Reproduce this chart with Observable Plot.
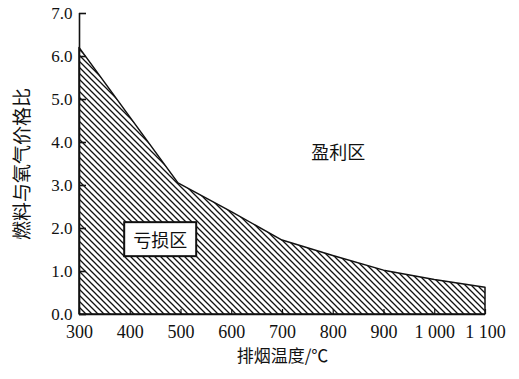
<!DOCTYPE html>
<html>
<head>
<meta charset="utf-8">
<script src="https://cdn.jsdelivr.net/npm/d3@7"></script>
<script src="https://cdn.jsdelivr.net/npm/@observablehq/plot@0.6"></script>
<style>
  html, body { margin: 0; padding: 0; background: #fff; }
</style>
</head>
<body>
<div id="chart"></div>
<script>
// exhaust-gas temperature (°C) and fuel/oxygen price ratio boundary
const temps  = [300, 495, 600, 700, 800, 900, 1000, 1100];
const ratios = [6.2, 3.05, 2.38, 1.72, 1.36, 1.02, 0.80, 0.62];

const xTicks = [300, 400, 500, 600, 700, 800, 900, 1000, 1100];
const xTickLabels = ["300", "400", "500", "600", "700", "800", "900", "1 000", "1 100"];
const yTicks = [0, 1, 2, 3, 4, 5, 6, 7];
const yTickLabels = ["0.0", "1.0", "2.0", "3.0", "4.0", "5.0", "6.0", "7.0"];

const xTitle = "排烟温度/℃";
const yTitle = "燃料与氧气价格比";
const lossLabel = [{x: 459, y: 1.70, text: "亏损区"}];
const profitLabel = [{x: 810, y: 3.74, text: "盈利区"}];

const data = temps.map((t, i) => ({t, r: ratios[i]}));
const cjk = "'Noto Sans CJK SC', sans-serif";
const serif = "'Liberation Serif', 'DejaVu Serif', serif";

const W = 519, H = 379, mL = 79, mR = 34, mT = 13, mB = 65;
const frameW = W - mL - mR, frameH = H - mT - mB;

const chart = Plot.plot({
  width: W,
  height: H,
  marginLeft: mL,
  marginRight: mR,
  marginTop: mT,
  marginBottom: mB,
  style: {fontFamily: serif, fontSize: "17px", color: "#111", background: "#fff"},
  x: {domain: [300, 1100]},
  y: {domain: [0, 7]},
  marks: [
    Plot.areaY(data, {x: "t", y: "r", fill: "url(#hatch)", stroke: "#111", strokeWidth: 1.5}),
    Plot.ruleX([300], {stroke: "#111", strokeWidth: 1.6}),
    Plot.ruleY([0], {stroke: "#111", strokeWidth: 1.6}),
    // inward ticks
    Plot.tickX(xTicks, {x: (d) => d, insetTop: frameH - 5, stroke: "#111", strokeWidth: 1.2}),
    Plot.tickY(yTicks, {y: (d) => d, insetRight: frameW - 7, stroke: "#111", strokeWidth: 1.6}),
    // tick labels
    Plot.axisX({ticks: xTicks, tickSize: 0, tickPadding: 11, tickFormat: (d) => xTickLabels[xTicks.indexOf(d)], label: null, fontSize: 18}),
    Plot.axisY({ticks: yTicks, tickSize: 0, tickPadding: 7, tickFormat: (d) => yTickLabels[yTicks.indexOf(d)], label: null, fontSize: 17}),
    // titles
    Plot.text([xTitle], {frameAnchor: "bottom", dy: 47, fontFamily: cjk, fontSize: 17, fill: "#111"}),
    Plot.text([yTitle], {frameAnchor: "left", dx: -57, rotate: -90, textAnchor: "middle", fontFamily: cjk, fontSize: 19, fill: "#111"}),
    // region labels
    Plot.text(lossLabel, {x: "x", y: "y", text: "text", fontFamily: cjk, fontSize: 18, fill: "#111"}),
    Plot.text(profitLabel, {x: "x", y: "y", text: "text", fontFamily: cjk, fontSize: 18, fill: "#111"})
  ]
});

// hatch pattern definition
const svg = d3.select(chart);
const defs = svg.insert("defs", ":first-child");
const pat = defs.append("pattern")
  .attr("id", "hatch")
  .attr("patternUnits", "userSpaceOnUse")
  .attr("width", 6)
  .attr("height", 6);
pat.append("rect").attr("width", 6).attr("height", 6).attr("fill", "#fff");
pat.append("path")
  .attr("d", "M-1,-1 L7,7 M-4,2 L1,7 M5,-1 L8,2")
  .attr("stroke", "#111")
  .attr("stroke-width", 1.3);

document.getElementById("chart").appendChild(chart);

// white box behind the loss label (after attaching so getBBox works)
const lossText = svg.selectAll("text").filter(function() { return this.textContent === "亏损区"; });
lossText.each(function() {
  const b = this.getBBox();
  const padX = 9, padY = 5;
  d3.select(this.parentNode).insert("rect", () => this)
    .attr("transform", this.getAttribute("transform"))
    .attr("x", b.x - padX).attr("y", b.y - padY + 1)
    .attr("width", b.width + 2 * padX).attr("height", b.height + 2 * padY - 2)
    .attr("fill", "#fff").attr("stroke", "#111").attr("stroke-width", 2);
});
</script>
</body>
</html>
